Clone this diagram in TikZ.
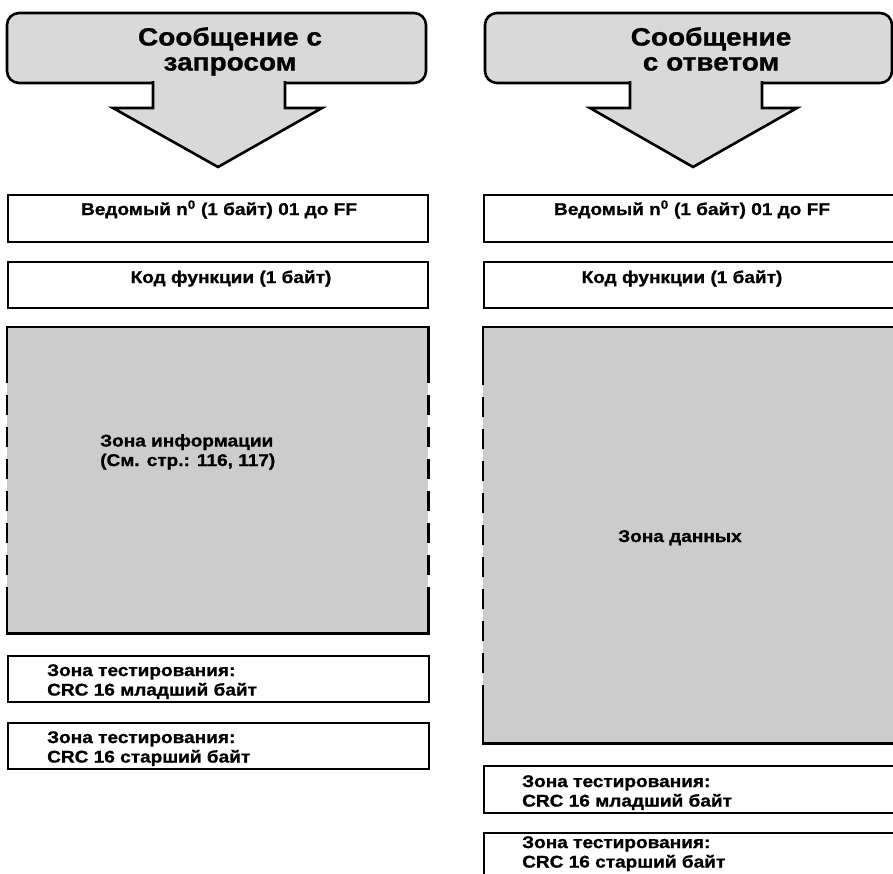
\documentclass[tikz,border=0pt]{standalone}
\usepackage{fontspec}
\setmainfont{Liberation Sans}
\newfontfamily\heavy[FakeStretch=1.12, BoldFeatures={FakeBold=1}]{Liberation Sans}
\usetikzlibrary{calc}

\tikzset{
  head/.style={draw, line width=2.6pt, fill=gray!30, line join=miter},
  cell/.style={draw, line width=2.4pt, fill=white, inner sep=0pt, anchor=north west},
  zone/.style={fill=gray!40, inner sep=0pt, anchor=north west},
  rim/.style={line width=2.4pt},
  gap/.style={line width=2.8pt, dash pattern=on 20pt off 12pt, dash phase=20pt},
  lbl/.style={inner sep=0pt, font=\heavy\bfseries\fontsize{17}{19.5}\selectfont},
  big/.style={inner sep=0pt, align=center, font=\heavy\bfseries\fontsize{25}{25}\selectfont},
}

\begin{document}
\begin{tikzpicture}[x=1pt, y=-1pt]
        \useasboundingbox (0,0) rectangle (893,873);
        \clip (0,0) rectangle (893,873);

        % request frame
        \filldraw[head, rounded corners=12pt] (7,13) rectangle (426,83);
        \filldraw[head] (153,81) -- (153,108) -- (113,108) -- (218,167) -- (322,108) -- (285,108) -- (285,81);
        \node[big, anchor=north] (reqtitle) at (230,27) {Сообщение с\\запросом};

        \node[cell, minimum width=420, minimum height=47] (slaveL) at (7,194) {};
        \node[lbl, anchor=base] (slaveLt) at (219,215) {Ведомый n\textsuperscript{0} (1 байт) 01 до FF};
        \node[cell, minimum width=420, minimum height=46] (funcL) at (7,261) {};
        \node[lbl, anchor=base] (funcLt) at (231,283) {Код функции (1 байт)};

        \node[zone, minimum width=421, minimum height=306] (infoL) at (7,327) {};
        \draw[rim] ($(infoL.north west)+(0,56)$) -- (infoL.north west) -- (infoL.north east) -- ($(infoL.north east)+(0,56)$);
        \draw[rim] ($(infoL.south west)+(0,-45)$) -- (infoL.south west) -- (infoL.south east) -- ($(infoL.south east)+(0,-45)$);
        \draw[gap] ($(infoL.north west)+(0,56)$) -- ($(infoL.south west)+(0,-45)$);
        \draw[gap] ($(infoL.north east)+(0,56)$) -- ($(infoL.south east)+(0,-45)$);
        \node[lbl, align=left, anchor=north west] (infoLt) at (100,434) {Зона информации\\(См. стр.: 116, 117)};

        \node[cell, minimum width=421, minimum height=46] (crcloL) at (7,655) {};
        \node[lbl, align=left, anchor=north west] (crcloLt) at (47,664) {Зона тестирования:\\CRC 16 младший байт};
        \node[cell, minimum width=421, minimum height=46] (crchiL) at (7,722) {};
        \node[lbl, align=left, anchor=north west] (crchiLt) at (47,731) {Зона тестирования:\\CRC 16 старший байт};

        % response frame
        \filldraw[head, rounded corners=12pt] (485,13) rectangle (892,83);
        \filldraw[head] (630,81) -- (630,108) -- (590,108) -- (693,167) -- (797,108) -- (762,108) -- (762,81);
        \node[big, anchor=north] (resptitle) at (711,27) {Сообщение\\с ответом};

        \node[cell, minimum width=430, minimum height=47] (slaveR) at (483,194) {};
        \node[lbl, anchor=base] (slaveRt) at (692,215) {Ведомый n\textsuperscript{0} (1 байт) 01 до FF};
        \node[cell, minimum width=430, minimum height=46] (funcR) at (483,261) {};
        \node[lbl, anchor=base] (funcRt) at (682,283) {Код функции (1 байт)};

        \node[zone, minimum width=430, minimum height=416] (dataR) at (483,327) {};
        \draw[rim] ($(dataR.north west)+(0,58)$) -- (dataR.north west) -- (dataR.north east);
        \draw[rim] ($(dataR.south west)+(0,-58)$) -- (dataR.south west) -- (dataR.south east);
        \draw[gap] ($(dataR.north west)+(0,58)$) -- ($(dataR.south west)+(0,-58)$);
        \node[lbl, anchor=base] (dataRt) at (680,542) {Зона данных};

        \node[cell, minimum width=430, minimum height=47] (crcloR) at (483,765) {};
        \node[lbl, align=left, anchor=north west] (crcloRt) at (522,775) {Зона тестирования:\\CRC 16 младший байт};
        \node[cell, minimum width=430, minimum height=47] (crchiR) at (483,832) {};
        \node[lbl, align=left, anchor=north west] (crchiRt) at (522,836) {Зона тестирования:\\CRC 16 старший байт};
\end{tikzpicture}
\end{document}
